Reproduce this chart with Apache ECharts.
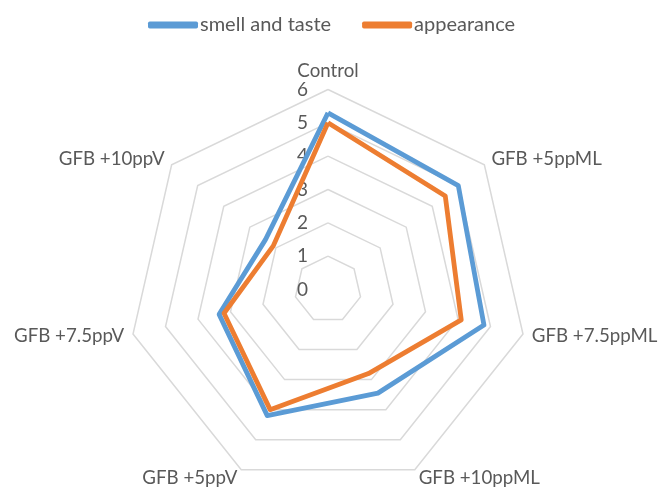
<!DOCTYPE html>
<html><head><meta charset="utf-8">
<script src="https://cdn.jsdelivr.net/npm/echarts@6/dist/echarts.min.js"></script>
<style>html,body{margin:0;padding:0;background:#fff}#c{width:665px;height:491px}</style>
</head><body><div id="c"></div>
<script>
// Order as in the reference, clockwise from the top
const categories = ['Control','GFB +5ppML','GFB +7.5ppML','GFB +10ppML','GFB +5ppV','GFB +7.5ppV','GFB +10ppV'];
const smellTaste = [5.3, 5.0, 4.8, 3.45, 4.2, 3.35, 2.4];
const appearance = [5.0, 4.5, 4.1, 2.8, 4.0, 3.2, 2.1];
const tickLabels = ['0','1','2','3','4','5','6'];
const axisMin = 0, axisMax = 6;

// ECharts radar places indicators counter-clockwise; reverse all but first
function reorder(a){ return [a[0]].concat(a.slice(1).reverse()); }

const FONT = 'Lato';
const GREY = '#595959';
const center = [328, 289.5];
const radius = 200;

const chart = echarts.init(document.getElementById('c'));
chart.setOption({
  animation: false,
  legend: {
    top: 10, left: 143, itemWidth: 50, itemHeight: 7, itemGap: 31,
    icon: 'roundRect',
    textStyle: {fontFamily: FONT, fontSize: 20, color: GREY, padding: [0,0,0,-3]},
    data: ['smell and taste','appearance']
  },
  radar: {
    center: center, radius: radius, startAngle: 90, shape: 'polygon', splitNumber: 6,
    indicator: reorder(categories).map(n => ({name: n, min: axisMin, max: axisMax})),
    axisName: {color: GREY, fontFamily: FONT, fontSize: 18.7},
    nameGap: 9,
    axisLine: {show: false},
    axisTick: {show: false},
    axisLabel: {show: false},
    splitArea: {show: false},
    splitLine: {lineStyle: {color: '#d9d9d9', width: 1.5}}
  },
  polar: {center: center, radius: radius},
  angleAxis: {show: false, min: 0, max: 360, startAngle: 90},
  radiusAxis: {
    min: axisMin, max: axisMax, interval: 1,
    axisLine: {show: false}, axisTick: {show: false}, splitLine: {show: false},
    axisLabel: {show: true, color: GREY, fontFamily: FONT, fontSize: 19, margin: 20,
      formatter: v => tickLabels[Math.round(v - axisMin)] }
  },
  series: [{
    type: 'radar', symbol: 'none',
    data: [
      {name: 'smell and taste', value: reorder(smellTaste),
       lineStyle: {color: '#5B9BD5', width: 4.8}, itemStyle: {color: '#5B9BD5'}},
      {name: 'appearance', value: reorder(appearance),
       lineStyle: {color: '#ED7D31', width: 4.8}, itemStyle: {color: '#ED7D31'}}
    ],
    lineStyle: {join: 'round'}
  }]
});
</script></body></html>
